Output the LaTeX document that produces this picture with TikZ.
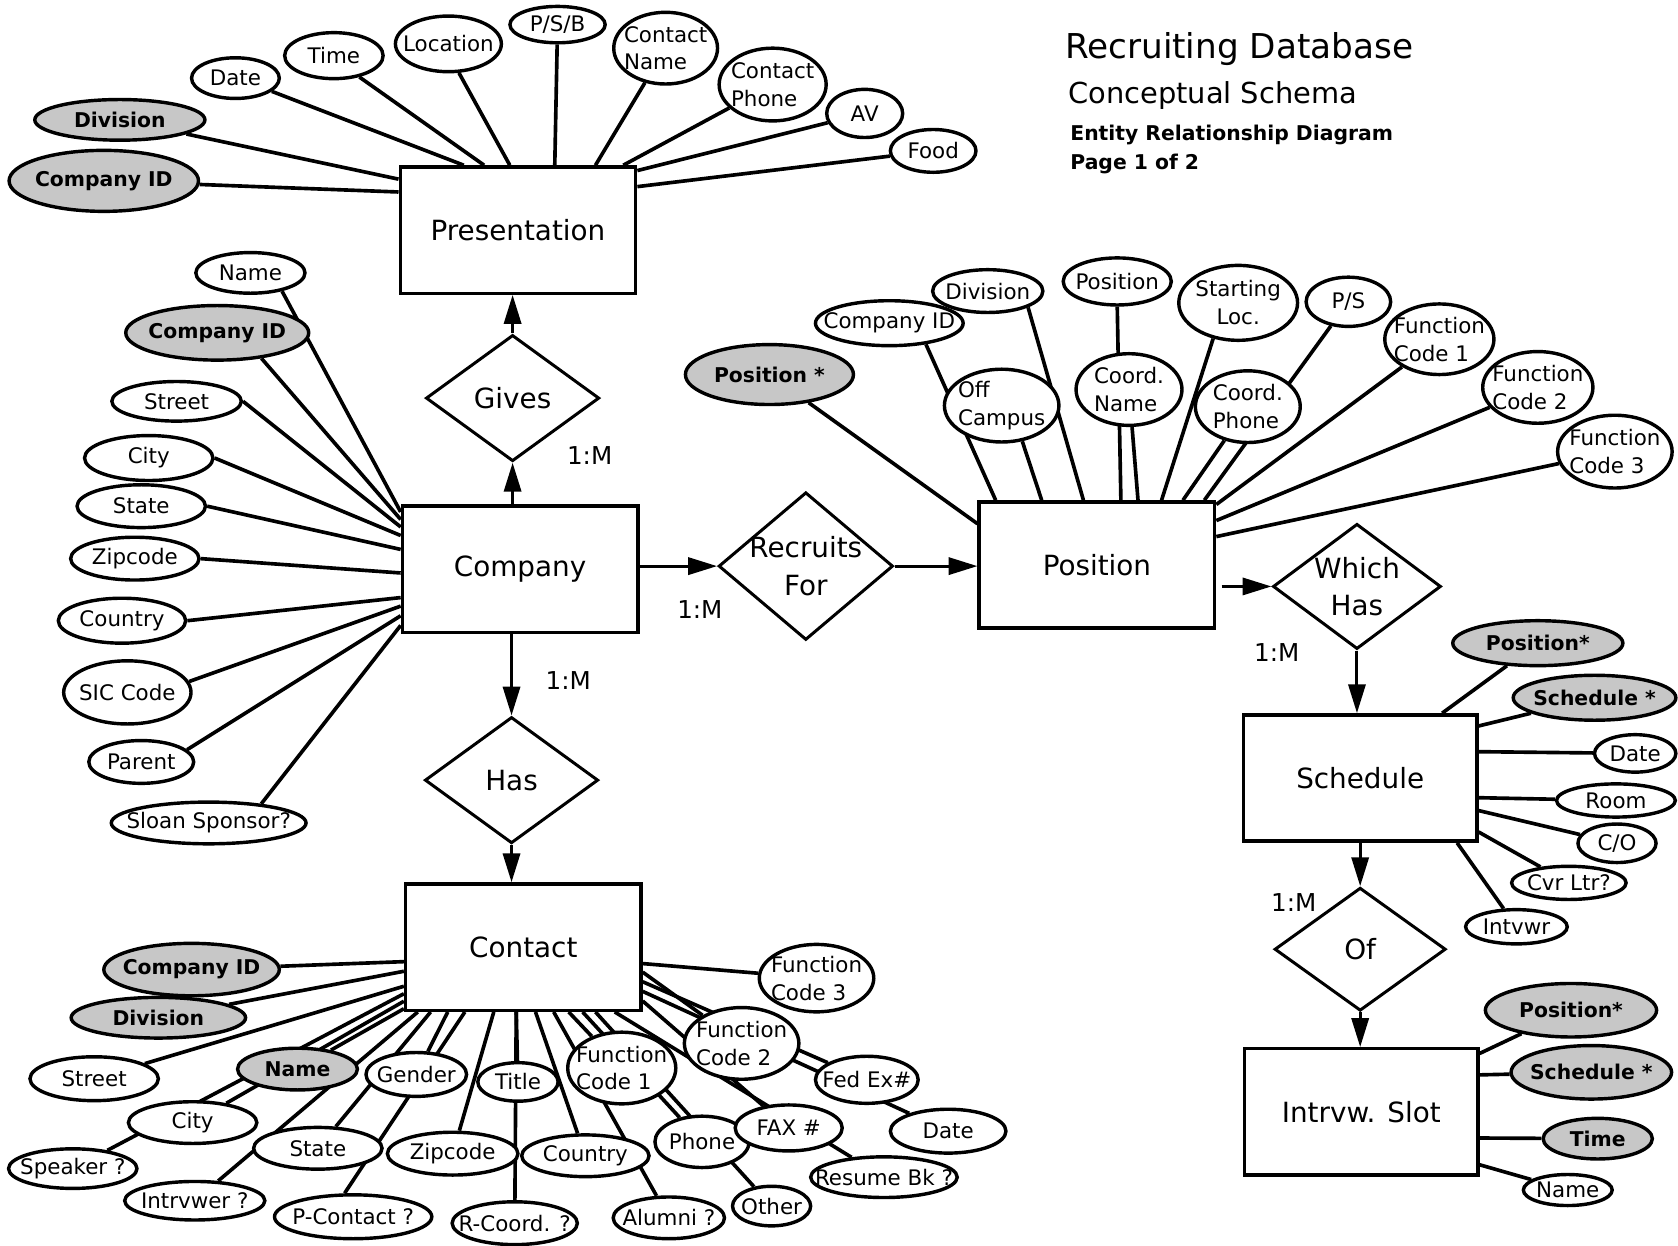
\documentclass[tikz,border=0pt]{standalone}
\usepackage{fontspec}
\setmainfont{DejaVu Sans}
\usetikzlibrary{arrows.meta, shapes.geometric, backgrounds}

\begin{document}
\begin{tikzpicture}[x=1pt, y=-1pt,
  ent/.style={draw, line width=3.2pt, fill=white, minimum width=220pt, minimum height=118pt, inner sep=0pt, font=\fontsize{26}{30}\selectfont},
  rel/.style={diamond, aspect=1.2, draw, line width=2.8pt, fill=white, inner sep=-6pt, align=center, font=\fontsize{26}{35}\selectfont},
  att/.style={ellipse, draw, line width=3.2pt, fill=white, inner xsep=-20pt, inner ysep=-6pt, align=left, font=\fontsize{20}{26}\selectfont},
  key/.style={att, fill=black!22, font=\fontsize{19}{24}\selectfont\bfseries},
  sz/.style 2 args={minimum width=#1pt, minimum height=#2pt},
  conn/.style={line width=3.4pt},
  arr/.style={line width=2.8pt, -{Triangle[length=27pt,width=16pt]}},
  card/.style={font=\fontsize{23}{26}\selectfont},
  ttl/.style={anchor=base west, inner sep=0pt}
]
  \useasboundingbox (0,0) rectangle (1568,1164);

  % title block
  \node[ttl, font=\fontsize{32}{36}\selectfont] (t1) at (995,55) {Recruiting Database};
  \node[ttl, font=\fontsize{27}{30}\selectfont] (t2) at (998,97) {Conceptual Schema};
  \node[ttl, font=\fontsize{19}{22}\selectfont\bfseries] (t3) at (1000,131) {Entity Relationship Diagram};
  \node[ttl, font=\fontsize{19}{22}\selectfont\bfseries] (t4) at (1000,158) {Page 1 of 2};

  % entities
  \node[ent] (pres) at (484,215) {Presentation};
  \node[ent] (comp) at (486,532) {Company};
  \node[ent] (posn) at (1025,528) {Position};
  \node[ent] (cont) at (489,885) {Contact};
  \node[ent, minimum width=218pt] (sched) at (1271,727) {Schedule};
  \node[ent, minimum width=218pt] (slot) at (1272,1039) {Intrvw. Slot};

  % relationships
  \node[rel, sz={162}{118}] (gives) at (479,372) {Gives};
  \node[rel, sz={162}{118}] (has) at (478,729) {Has};
  \node[rel, sz={163}{138}] (rf) at (753,529) {Recruits\\For};
  \node[rel, sz={157}{117}] (wh) at (1268,548) {Which\\Has};
  \node[rel, sz={160}{115}] (of) at (1271,887) {Of};

  \node[card] (m1) at (551,426) {1:M};
  \node[card] (m2) at (654,570) {1:M};
  \node[card] (m3) at (531,636) {1:M};
  \node[card] (m4) at (1193,610) {1:M};
  \node[card] (m5) at (1209,843) {1:M};

  % Presentation attributes
  \node[att, sz={82}{38}] (p-date) at (220,73) {Date};
  \node[att, sz={92}{43}] (p-time) at (312,52) {Time};
  \node[att, sz={99}{52}] (p-loc) at (419,41) {Location};
  \node[att, sz={89}{34}] (p-psb) at (521,23) {P/S/B};
  \node[att, sz={97}{67}] (p-cname) at (622,45) {Contact\\Name};
  \node[att, sz={100}{68}] (p-cphone) at (722,79) {Contact\\Phone};
  \node[att, sz={71}{45}] (p-av) at (808,106) {AV};
  \node[att, sz={80}{40}] (p-food) at (872,141) {Food};
  \node[key, sz={159}{38}] (p-div) at (112,112) {Division};
  \node[key, sz={177}{57}] (p-cid) at (97,169) {Company ID};

  % Company attributes
  \node[att, sz={102}{38}] (c-name) at (234,255) {Name};
  \node[key, sz={171}{51}] (c-cid) at (203,311) {Company ID};
  \node[att, sz={121}{37}] (c-street) at (165,375) {Street};
  \node[att, sz={120}{42}] (c-city) at (139,428) {City};
  \node[att, sz={120}{40}] (c-state) at (132,473) {State};
  \node[att, sz={120}{40}] (c-zip) at (126,522) {Zipcode};
  \node[att, sz={119}{42}] (c-country) at (114,580) {Country};
  \node[att, sz={119}{59}] (c-sic) at (119,647) {SIC Code};
  \node[att, sz={98}{40}] (c-parent) at (132,712) {Parent};
  \node[att, sz={182}{39}] (c-sloan) at (195,769) {Sloan Sponsor?};

  % Position attributes
  \node[key, sz={157}{56}] (q-pos) at (719,350) {Position *};
  \node[att, sz={138}{42}] (q-cid) at (831,302) {Company ID};
  \node[att, sz={103}{40}] (q-div) at (923,272) {Division};
  \node[att, sz={107}{68}] (q-off) at (936,379) {Off\\Campus};
  \node[att, sz={101}{44}] (q-posa) at (1044,263) {Position};
  \node[att, sz={99}{67}] (q-cname) at (1055,364) {Coord.\\Name};
  \node[att, sz={111}{70}, align=center] (q-start) at (1157,283) {Starting\\Loc.};
  \node[att, sz={79}{46}] (q-ps) at (1260,282) {P/S};
  \node[att, sz={98}{67}] (q-cphone) at (1166,380) {Coord.\\Phone};
  \node[att, sz={102}{66}] (q-fc1) at (1345,317) {Function\\Code 1};
  \node[att, sz={103}{67}] (q-fc2) at (1437,362) {Function\\Code 2};
  \node[att, sz={107}{68}] (q-fc3) at (1509,422) {Function\\Code 3};

  % Schedule attributes
  \node[key, sz={159}{42}] (s-pos) at (1437,601) {Position*};
  \node[key, sz={152}{42}] (s-sch) at (1490,652) {Schedule *};
  \node[att, sz={76}{35}] (s-date) at (1528,704) {Date};
  \node[att, sz={111}{31}] (s-room) at (1510,748) {Room};
  \node[att, sz={73}{36}] (s-co) at (1511,788) {C/O};
  \node[att, sz={107}{31}] (s-cvr) at (1466,825) {Cvr Ltr?};
  \node[att, sz={95}{32}] (s-int) at (1417,866) {Intvwr};

  % Intrvw. Slot attributes
  \node[key, sz={160}{50}] (i-pos) at (1468,944) {Position*};
  \node[key, sz={150}{50}] (i-sch) at (1487,1002) {Schedule *};
  \node[key, sz={102}{38}] (i-time) at (1493,1064) {Time};
  \node[att, sz={83}{29}] (i-name) at (1465,1112) {Name};

  % Contact attributes
  \node[key, sz={164}{49}] (k-cid) at (179,906) {Company ID};
  \node[key, sz={163}{38}] (k-div) at (148,951) {Division};
  \node[att, sz={120}{41}] (k-street) at (88,1008) {Street};
  \node[key, sz={112}{39}] (k-name) at (278,999) {Name};
  \node[att, sz={120}{39}] (k-city) at (180,1049) {City};
  \node[att, sz={120}{37}] (k-speak) at (68,1092) {Speaker ?};
  \node[att, sz={94}{41}] (k-gender) at (389,1004) {Gender};
  \node[att, sz={75}{36}] (k-title) at (484,1011) {Title};
  \node[att, sz={120}{39}] (k-state) at (297,1073) {State};
  \node[att, sz={131}{36}] (k-intr) at (182,1122) {Intrvwer ?};
  \node[att, sz={147}{41}] (k-pcont) at (330,1137) {P-Contact ?};
  \node[att, sz={122}{40}] (k-zip) at (423,1078) {Zipcode};
  \node[att, sz={117}{40}] (k-rcoord) at (481,1143) {R-Coord. ?};
  \node[att, sz={119}{39}] (k-country) at (547,1080) {Country};
  \node[att, sz={104}{39}] (k-alumni) at (625,1138) {Alumni ?};
  \node[att, sz={101}{67}] (k-fc1) at (581,998) {Function\\Code 1};
  \node[att, sz={88}{48}] (k-phone) at (656,1067) {Phone};
  \node[att, sz={73}{37}] (k-other) at (721,1127) {Other};
  \node[att, sz={107}{67}] (k-fc2) at (693,975) {Function\\Code 2};
  \node[att, sz={100}{43}] (k-fax) at (737,1054) {FAX \#};
  \node[att, sz={137}{38}] (k-resume) at (826,1100) {Resume Bk ?};
  \node[att, sz={96}{44}] (k-fedex) at (810,1009) {Fed Ex\#};
  \node[att, sz={108}{41}] (k-date) at (886,1057) {Date};
  \node[att, sz={107}{63}] (k-fc3) at (763,914) {Function\\Code 3};

  \begin{scope}[on background layer]
    % Presentation
    \draw[conn] ([yshift=-25pt]pres.north west) -- (p-cid);
    \draw[conn] ([yshift=-13pt]pres.north west) -- (p-div);
    \draw[conn] ([xshift=61pt]pres.north west) -- (p-date.-20);
    \draw[conn] ([xshift=80pt]pres.north west) -- (p-time.-40);
    \draw[conn] ([xshift=104pt]pres.north west) -- (p-loc.-70);
    \draw[conn] ([xshift=146pt]pres.north west) -- (p-psb);
    \draw[conn] ([xshift=184pt]pres.north west) -- (p-cname);
    \draw[conn] ([xshift=210pt]pres.north west) -- (p-cphone);
    \draw[conn] ([yshift=-5pt]pres.north east) -- (p-av);
    \draw[conn] ([yshift=-20pt]pres.north east) -- (p-food);
    % Company
    \draw[conn] ([yshift=-7pt]comp.north west) -- (c-name.-30);
    \draw[conn] ([yshift=-14pt]comp.north west) -- (c-cid.-30);
    \draw[conn] ([yshift=-21pt]comp.north west) -- (c-street.east);
    \draw[conn] ([yshift=-29pt]comp.north west) -- (c-city.east);
    \draw[conn] ([yshift=-42pt]comp.north west) -- (c-state.east);
    \draw[conn] ([yshift=-64pt]comp.north west) -- (c-zip.east);
    \draw[conn] ([yshift=-87pt]comp.north west) -- (c-country.east);
    \draw[conn] ([yshift=-95pt]comp.north west) -- (c-sic.10);
    \draw[conn] ([yshift=-104pt]comp.north west) -- (c-parent.15);
    \draw[conn] ([yshift=-113pt]comp.north west) -- (c-sloan.20);
    % Position
    \draw[conn] ([yshift=-22pt]posn.north west) -- (q-pos);
    \draw[conn] ([xshift=17pt]posn.north west) -- (q-cid.-30);
    \draw[conn] ([xshift=60pt]posn.north west) -- (q-off.-60);
    \draw[conn] ([xshift=99pt]posn.north west) -- (q-div.-22);
    \draw[conn] ([xshift=134pt]posn.north west) -- (q-posa.south);
    \draw[conn] ([xshift=150pt]posn.north west) -- (q-cname);
    \draw[conn] ([xshift=172pt]posn.north west) -- (q-start.-125);
    \draw[conn] ([xshift=192pt]posn.north west) -- (q-cphone);
    \draw[conn] ([xshift=212pt]posn.north west) -- (q-ps);
    \draw[conn] ([yshift=-4pt]posn.north east) -- (q-fc1);
    \draw[conn] ([yshift=-19pt]posn.north east) -- (q-fc2);
    \draw[conn] ([yshift=-34pt]posn.north east) -- (q-fc3);
    % Schedule
    \draw[conn] ([xshift=-34pt]sched.north east) -- (s-pos);
    \draw[conn] ([yshift=-12pt]sched.north east) -- (s-sch);
    \draw[conn] ([yshift=-36pt]sched.north east) -- (s-date);
    \draw[conn] ([yshift=-79pt]sched.north east) -- (s-room);
    \draw[conn] ([yshift=-91pt]sched.north east) -- (s-co);
    \draw[conn] ([yshift=-111pt]sched.north east) -- (s-cvr);
    \draw[conn] ([xshift=-20pt]sched.south east) -- (s-int);
    % Intrvw. Slot
    \draw[conn] ([yshift=-6pt]slot.north east) -- (i-pos);
    \draw[conn] ([yshift=-26pt]slot.north east) -- (i-sch);
    \draw[conn] ([yshift=-85pt]slot.north east) -- (i-time);
    \draw[conn] ([yshift=-110pt]slot.north east) -- (i-name);
    % Contact
    \draw[conn] ([yshift=47pt]cont.south west) -- (k-cid);
    \draw[conn] ([yshift=38pt]cont.south west) -- (k-div);
    \draw[conn] ([yshift=24pt]cont.south west) -- (k-street);
    \draw[conn] ([yshift=17pt]cont.south west) -- (k-speak);
    \draw[conn] ([yshift=10pt]cont.south west) -- (k-city);
    \draw[conn] ([yshift=3pt]cont.south west) -- (k-name);
    \draw[conn] ([xshift=13pt]cont.south west) -- (k-intr);
    \draw[conn] ([xshift=25pt]cont.south west) -- (k-state);
    \draw[conn] ([xshift=41pt]cont.south west) -- (k-gender);
    \draw[conn] ([xshift=57pt]cont.south west) -- (k-pcont.110);
    \draw[conn] ([xshift=84pt]cont.south west) -- (k-zip);
    \draw[conn] ([xshift=105pt]cont.south west) -- (k-title);
    \draw[conn] ([xshift=105pt]cont.south west) -- (k-rcoord);
    \draw[conn] ([xshift=123pt]cont.south west) -- (k-country);
    \draw[conn] ([xshift=140pt]cont.south west) -- (k-alumni);
    \draw[conn] ([xshift=154pt]cont.south west) -- (k-fc1);
    \draw[conn] ([xshift=167pt]cont.south west) -- (k-phone);
    \draw[conn] ([xshift=179pt]cont.south west) -- (k-other);
    \draw[conn] ([xshift=197pt]cont.south west) -- (k-resume);
    \draw[conn] ([yshift=-111pt]cont.north east) -- (k-fax);
    \draw[conn] ([yshift=-102pt]cont.north east) -- (k-date);
    \draw[conn] ([yshift=-93pt]cont.north east) -- (k-fedex);
    \draw[conn] ([yshift=-84pt]cont.north east) -- (k-fc2);
    \draw[conn] ([yshift=-76pt]cont.north east) -- (k-fc3);
  \end{scope}

  % relationship arrows
  \draw[arr] (gives.south |- comp.north) -- (gives.south);
  \draw[arr] (gives.north) -- (gives.north |- pres.south);
  \draw[arr] (comp.east |- rf.west) -- (rf.west);
  \draw[arr] (rf.east) -- (posn.west |- rf.east);
  \draw[arr, shorten <=5pt] (posn.east |- wh.west) -- (wh.west);
  \draw[arr] (wh.south) -- (wh.south |- sched.north);
  \draw[arr] (of.north |- sched.south) -- (of.north);
  \draw[arr] (of.south) -- (of.south |- slot.north);
  \draw[arr] (has.north |- comp.south) -- (has.north);
  \draw[arr] (has.south) -- (has.south |- cont.north);
\end{tikzpicture}
\end{document}
